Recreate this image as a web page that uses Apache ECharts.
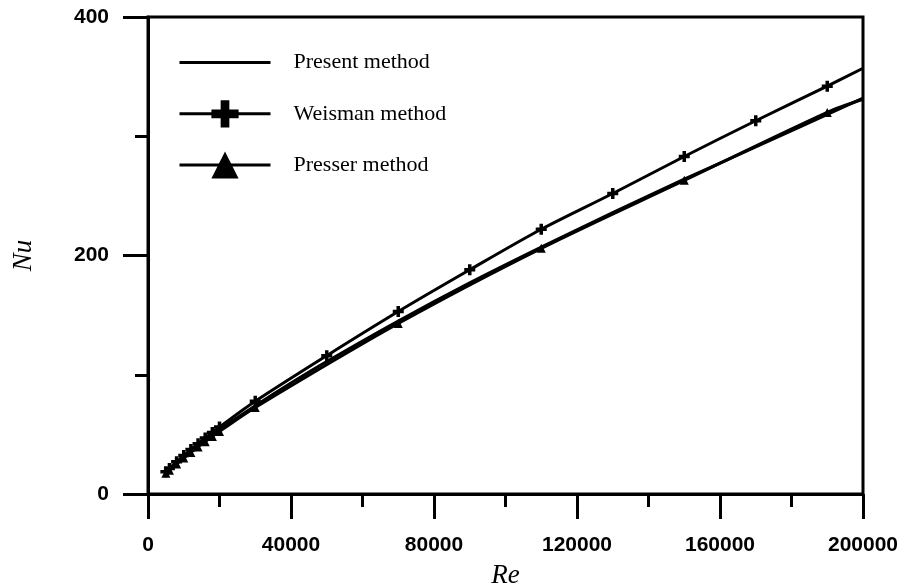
<!DOCTYPE html>
<html>
<head>
<meta charset="utf-8">
<script src="https://cdn.jsdelivr.net/npm/echarts@6/dist/echarts.min.js"></script>
<style>
  html, body { margin: 0; padding: 0; background: #fff; }
  #chart { width: 906px; height: 585px; }
</style>
</head>
<body>
<div id="chart"></div>
<script>
// Re values and Nu
var presentRe = [5000, 10000, 20000, 30000, 40000, 50000, 70000, 90000, 110000, 130000, 150000, 170000, 200000];
var presentNu = [18, 31, 54, 74, 93, 111, 145, 177, 207, 236, 264, 291, 332];

var weismanRe = [5000, 6000, 8000, 10000, 12000, 14000, 16000, 18000, 20000, 30000, 50000, 70000, 90000, 110000, 130000, 150000, 170000, 190000, 200000];
var weismanNu = [18.6, 21.4, 27, 32.3, 37.3, 42.2, 47, 51.6, 56.2, 77.7, 116, 153, 188, 222, 252, 283, 313, 342, 357];

var presserRe = [5000, 6000, 8000, 10000, 12000, 14000, 16000, 18000, 20000, 30000, 70000, 110000, 150000, 190000, 200000];
var presserNu = [17.3, 20, 25.2, 30.2, 34.9, 39.5, 43.9, 48.2, 52.5, 72.6, 143, 206, 263, 320, 331];

var seriesNames = ['Present method', 'Weisman method', 'Presser method'];
var xTicks = { min: 0, max: 200000, interval: 40000 };
var yTicks = { min: 0, max: 400, interval: 200 };

var plusPath = 'path://M0,3.4H3.4V0H6.6V3.4H10V6.6H6.6V10H3.4V6.6H0Z';

function pairs(xs, ys, lastBare) {
    return xs.map(function (x, i) {
        var item = { value: [x, ys[i]] };
        if (lastBare && i === xs.length - 1) item.symbol = 'none';
        return item;
    });
}

var option = {
    backgroundColor: '#fff',
    animation: false,
    grid: {
        left: 148,
        right: 43,
        top: 17,
        bottom: 91,
        containLabel: false,
        outerBoundsMode: 'none',
        show: true,
        borderColor: '#000',
        borderWidth: 3,
        backgroundColor: 'transparent'
    },
    legend: {
        orient: 'vertical',
        left: 173,
        top: 44,
        itemWidth: 91,
        itemHeight: 34,
        itemGap: 24,
        lineStyle: { width: 3 },
        data: [
            { name: seriesNames[0], itemStyle: { opacity: 0 } },
            seriesNames[1],
            seriesNames[2]
        ],
        textStyle: {
            fontFamily: 'Liberation Serif',
            fontSize: 22,
            color: '#000',
            padding: [0, 0, 0, 18]
        }
    },
    xAxis: {
        type: 'value',
        min: xTicks.min,
        max: xTicks.max,
        interval: xTicks.interval,
        name: 'Re',
        nameLocation: 'middle',
        nameGap: 68,
        nameTextStyle: {
            fontFamily: 'Liberation Serif',
            fontStyle: 'italic',
            fontSize: 27,
            color: '#000'
        },
        axisLine: { lineStyle: { color: '#000', width: 3 } },
        axisTick: { show: true, inside: false, length: 25, lineStyle: { color: '#000', width: 3 } },
        minorTick: { show: true, splitNumber: 2, length: 13, lineStyle: { color: '#000', width: 3 } },
        splitLine: { show: false },
        axisLabel: {
            margin: 41,
            fontFamily: 'Liberation Sans',
            fontWeight: 'bold',
            fontSize: 21,
            color: '#000',
            formatter: function (v) { return String(v); }
        }
    },
    yAxis: {
        type: 'value',
        min: yTicks.min,
        max: yTicks.max,
        interval: yTicks.interval,
        name: 'Nu',
        nameLocation: 'middle',
        nameGap: 111,
        nameTextStyle: {
            fontFamily: 'Liberation Serif',
            fontStyle: 'italic',
            fontSize: 27,
            color: '#000'
        },
        axisLine: { show: true, lineStyle: { color: '#000', width: 3 } },
        axisTick: { show: true, inside: false, length: 25, lineStyle: { color: '#000', width: 3 } },
        minorTick: { show: true, splitNumber: 2, length: 13, lineStyle: { color: '#000', width: 3 } },
        splitLine: { show: false },
        axisLabel: {
            margin: 39,
            fontFamily: 'Liberation Sans',
            fontWeight: 'bold',
            fontSize: 21,
            color: '#000'
        }
    },
    series: [
        {
            name: seriesNames[0],
            type: 'line',
            smooth: 0.3,
            symbol: 'none',
            data: pairs(presentRe, presentNu, false),
            lineStyle: { color: '#000', width: 3 },
            itemStyle: { color: '#000' }
        },
        {
            name: seriesNames[1],
            type: 'line',
            smooth: 0.3,
            symbol: plusPath,
            symbolSize: 11,
            data: pairs(weismanRe, weismanNu, true),
            lineStyle: { color: '#000', width: 3 },
            itemStyle: { color: '#000' }
        },
        {
            name: seriesNames[2],
            type: 'line',
            smooth: 0.3,
            symbol: 'triangle',
            symbolSize: 9,
            data: pairs(presserRe, presserNu, true),
            lineStyle: { color: '#000', width: 3 },
            itemStyle: { color: '#000' }
        }
    ]
};

var myChart = echarts.init(document.getElementById('chart'));
myChart.setOption(option);
</script>
</body>
</html>
